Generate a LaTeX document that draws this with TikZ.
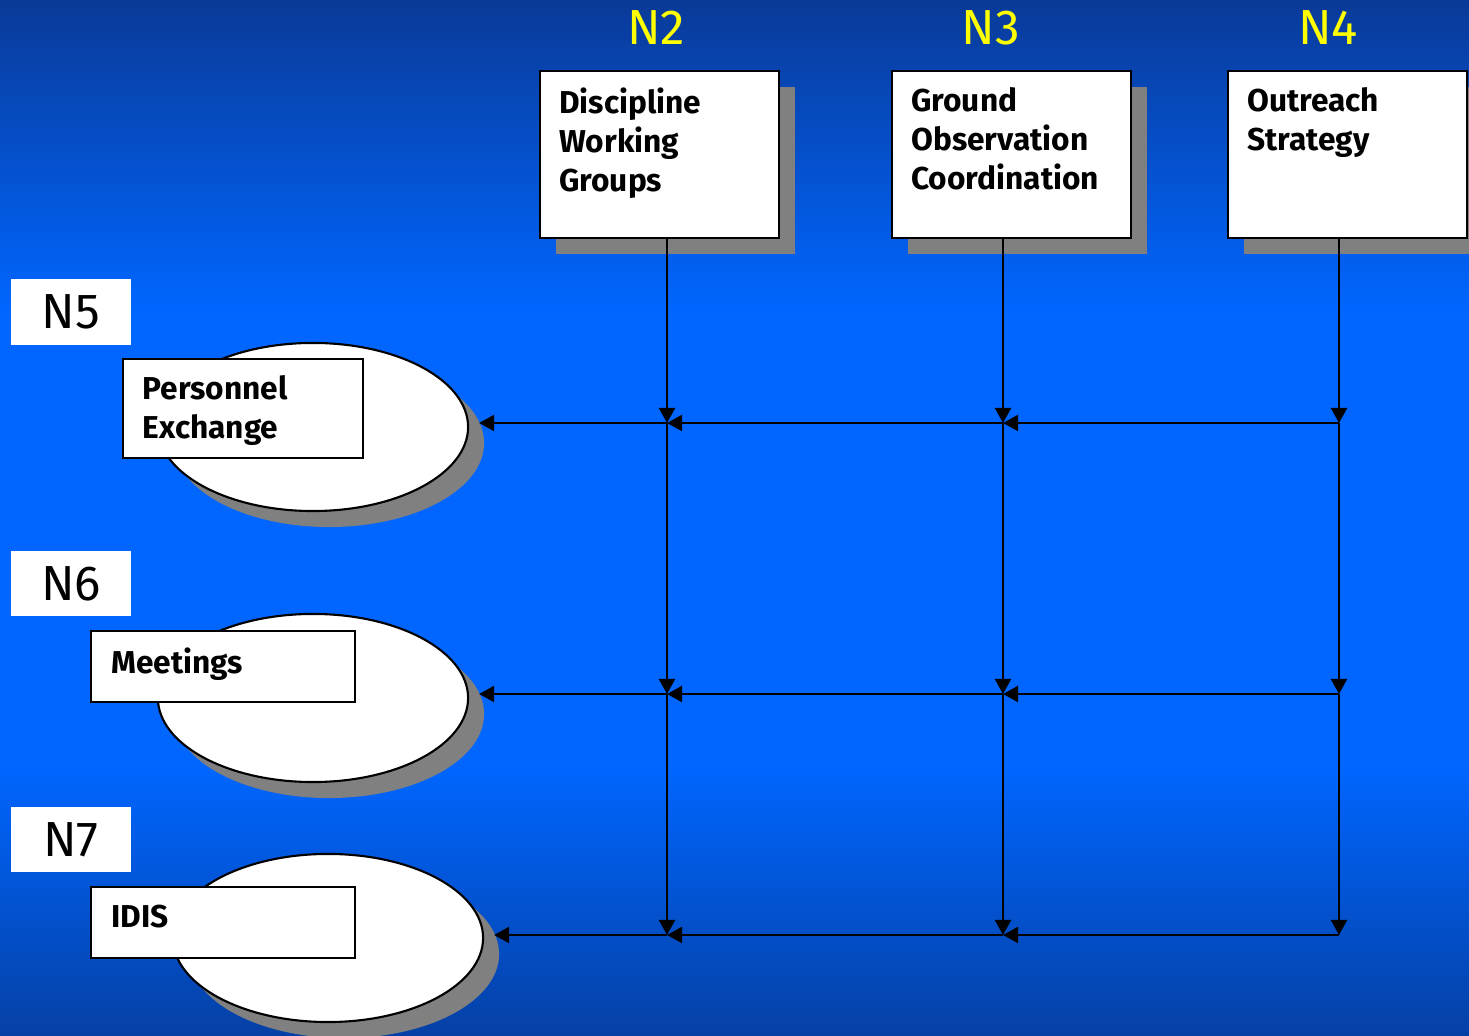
\documentclass[tikz,border=0pt]{standalone}
\usepackage{fontspec}
\setmainfont{Fira Sans}
\usetikzlibrary{arrows.meta,shapes.geometric,shadows}
\definecolor{deepblue}{RGB}{10,58,152}
\definecolor{brightblue}{RGB}{0,102,255}
\definecolor{lowblue}{RGB}{5,64,165}
\definecolor{shadowgray}{RGB}{128,128,128}
\definecolor{nyellow}{RGB}{255,255,0}
\pgfdeclareverticalshading{slidefade}{100bp}{color(0bp)=(lowblue); color(25bp)=(lowblue); color(38bp)=(brightblue); color(60bp)=(brightblue); color(75bp)=(deepblue); color(100bp)=(deepblue)}
\begin{document}
\begin{tikzpicture}[x=0.01cm, y=0.01cm, >={Triangle[length=0.15cm,width=0.16cm]},
	shadowed/.style={drop shadow={shadow xshift=0.16cm, shadow yshift=-0.16cm, fill=shadowgray, opacity=1}},
	panel/.style={draw, line width=0.75pt, fill=white, minimum width=2.39cm, minimum height=1.67cm, inner sep=0pt, shadowed},
	blob/.style={ellipse, draw, line width=0.6pt, fill=white, minimum width=3.1cm, minimum height=1.68cm, inner sep=0pt, shadowed},
	tag/.style={draw, line width=0.6pt, fill=white, inner sep=0pt},
	rowtag/.style={fill=white, minimum width=1.2cm, minimum height=0.65cm, inner sep=0pt, font=\fontsize{14}{16}\selectfont},
	coltitle/.style={text=nyellow, inner sep=0pt, font=\fontsize{14}{16}\selectfont},
	words/.style={anchor=north west, align=left, inner sep=0pt, font=\bfseries\fontsize{9}{11.1}\selectfont},
	link/.style={->, line width=0.6pt}]
	\shade[shading=slidefade] (0,0) rectangle (1469,1036);
	\useasboundingbox (0,0) rectangle (1469,1036);
	% column titles and boxes
	\node[coltitle] (n2) at (656,1008) {N2};
	\node[coltitle] (n3) at (991,1008) {N3};
	\node[coltitle] (n4) at (1328,1008) {N4};
	\node[panel] (dwg) at (659.5,881.5) {};
	\node[panel] (goc) at (1011.5,881.5) {};
	\node[panel] (ost) at (1347.5,881.5) {};
	\node[words] (dwgt) at ([xshift=0.2cm,yshift=-0.17cm]dwg.north west) {Discipline\\Working\\Groups};
	\node[words] (goct) at ([xshift=0.2cm,yshift=-0.17cm]goc.north west) {Ground\\Observation\\Coordination};
	\node[words] (ostt) at ([xshift=0.2cm,yshift=-0.17cm]ost.north west) {Outreach\\Strategy};
	% row titles and ellipses
	\node[rowtag] (n5) at (71,724) {N5};
	\node[rowtag] (n6) at (71,452.5) {N6};
	\node[rowtag] (n7) at (71,196.5) {N7};
	\node[blob] (pex) at (313,609) {};
	\node[blob] (mtg) at (313,338) {};
	\node[blob] (ids) at (328,98) {};
	\node[tag, minimum width=2.4cm, minimum height=0.99cm] (pexb) at (243,627.5) {};
	\node[tag, minimum width=2.64cm, minimum height=0.71cm] (mtgb) at (223,369.5) {};
	\node[tag, minimum width=2.64cm, minimum height=0.71cm] (idsb) at (223,113.5) {};
	\node[words] (pext) at ([xshift=0.2cm,yshift=-0.17cm]pexb.north west) {Personnel\\Exchange};
	\node[words] (mtgt) at ([xshift=0.21cm,yshift=-0.17cm]mtgb.north west) {Meetings};
	\node[words] (idst) at ([xshift=0.21cm,yshift=-0.18cm]idsb.north west) {IDIS};
	% crossings
	\path (667,613) coordinate (a5) (1003,613) coordinate (b5) (1339,613) coordinate (c5)
	(667,342) coordinate (a6) (1003,342) coordinate (b6) (1339,342) coordinate (c6)
	(667,101) coordinate (a7) (1003,101) coordinate (b7) (1339,101) coordinate (c7);
	\foreach \c/\t in {a/dwg, b/goc, c/ost}{
		\draw[link] (\t.south -| \c5)--(\c5);
		\draw[link] (\c5)--(\c6);
		\draw[link] (\c6)--(\c7);
	}
	\foreach \r/\e in {5/pex, 6/mtg, 7/ids}{
		\draw[link] (c\r)--(b\r);
		\draw[link] (b\r)--(a\r);
		\draw[link] (a\r)--([xshift=0.1cm]a\r -| \e.east);
	}
\end{tikzpicture}
\end{document}
